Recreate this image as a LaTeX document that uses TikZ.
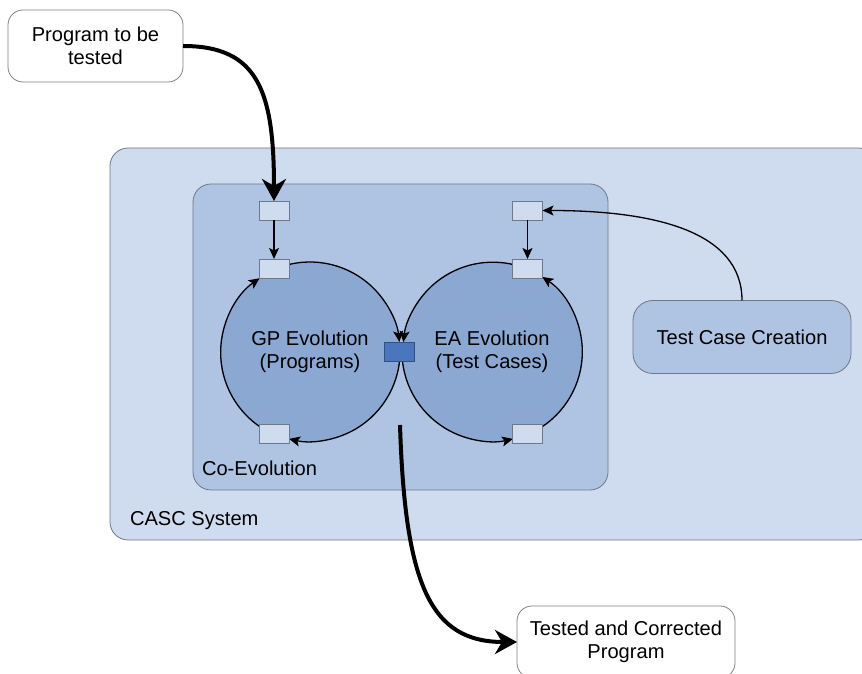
\documentclass[tikz,border=0pt]{standalone}
\usepackage{fontspec}
\setmainfont{Liberation Sans}
\usetikzlibrary{arrows.meta}
\definecolor{cascfill}{RGB}{207,219,238}
\definecolor{coevofill}{RGB}{175,196,227}
\definecolor{circfill}{RGB}{139,168,211}
\definecolor{midfill}{RGB}{74,118,190}
\definecolor{middraw}{RGB}{50,80,130}
\definecolor{bordergray}{RGB}{110,120,135}
\definecolor{termgray}{RGB}{130,130,130}
\begin{document}
\begin{tikzpicture}[x=1pt,y=1pt,
  every node/.style={font=\fontsize{20.1}{23.5}\selectfont, inner sep=0pt, outer sep=0pt},
  term/.style={draw=termgray, fill=white, rounded corners=15pt, align=center, line width=0.8pt},
  container/.style={draw=bordergray, rounded corners=18pt, line width=0.8pt},
  port/.style={draw=bordergray, fill=cascfill, minimum width=30pt, minimum height=19pt, line width=0.8pt},
  midbox/.style={draw=middraw, fill=midfill, minimum width=30pt, minimum height=19pt, line width=0.8pt},
  evo/.style={circle, fill=circfill, minimum size=180pt, align=center},
  thinarrow/.style={line width=1.3pt, -{Stealth[length=11pt,width=10pt,inset=2.5pt]}},
  thickarrow/.style={line width=4pt, -{Stealth[length=22pt,width=24pt,inset=7pt]}},
  lbl/.style={anchor=west}
]
\clip (0,0) rectangle (862,674);
\fill[white] (0,0) rectangle (862,674);

% containers
\node[container, fill=cascfill, minimum width=766pt, minimum height=392pt] (casc) at (493,330) {};
\node[lbl] (casclbl) at (130,153) {CASC System};
\node[container, fill=coevofill, minimum width=415pt, minimum height=306pt] (coevo) at (400.5,337) {};
\node[lbl] (coevolbl) at (202,206) {Co-Evolution};

% circles
\node[evo] (circL) at (310,322) {GP Evolution\\(Programs)};
\node[evo] (circR) at (492,322) {EA Evolution\\(Test Cases)};

% cycle arcs
\draw[thinarrow] (circL.103) arc[start angle=103, end angle=6.4, radius=90pt];
\draw[thinarrow] (circL.-6.4) arc[start angle=-6.4, end angle=-103.5, radius=90pt];
\draw[thinarrow] (circL.-124.5) arc[start angle=-124.5, end angle=-235.5, radius=90pt];
\draw[thinarrow] (circR.76.5) arc[start angle=76.5, end angle=173.6, radius=90pt];
\draw[thinarrow] (circR.186.4) arc[start angle=186.4, end angle=283.5, radius=90pt];
\draw[thinarrow] (circR.-56.25) arc[start angle=-56.25, end angle=56.25, radius=90pt];

% ports
\node[port] (inL) at (274,463.5) {};
\node[port] (topL) at (274,405.5) {};
\node[port] (botL) at (274,240.5) {};
\node[port] (inR) at (527.5,463.5) {};
\node[port] (topR) at (527.5,405.5) {};
\node[port] (botR) at (527.5,240.5) {};
\node[midbox] (mid) at (399.5,322.5) {};

\draw[thinarrow] (inL.south) -- (topL.north);
\draw[thinarrow] (inR.south) -- (topR.north);

% outer nodes
\node[term, minimum width=175pt, minimum height=72pt] (prog) at (95.5,628) {Program to be\\tested};
\node[term, minimum width=218pt, minimum height=72pt] (tested) at (626,32) {Tested and Corrected\\Program};
\node[container, fill=coevofill, rounded corners=20pt, minimum width=218pt, minimum height=73pt] (tcc) at (742,337) {Test Case Creation};

\coordinate (outS) at (400,249);

\draw[thickarrow] (prog.east) .. controls +(75,0) and +(0,110) .. (inL.north);
\draw[thinarrow] (tcc.north) .. controls +(0,70) and +(110,0) .. (inR.east);
\draw[thickarrow] (outS) .. controls (405,90) and (430,32) .. (tested.west);
\end{tikzpicture}
\end{document}
